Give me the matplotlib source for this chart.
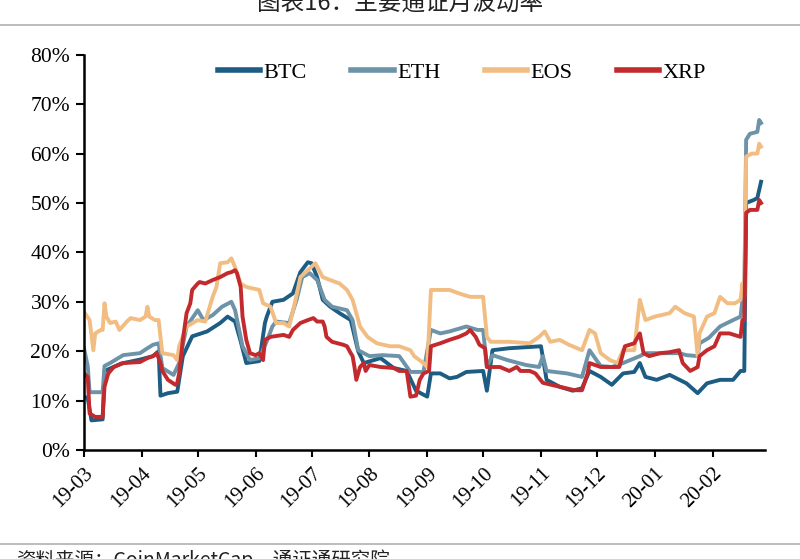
import numpy as np
import matplotlib
matplotlib.use("Agg")
import matplotlib.pyplot as plt
import matplotlib.dates as mdates

plt.rcParams['font.family'] = ['Liberation Serif', 'Noto Sans CJK SC', 'DejaVu Sans']

start_date = np.datetime64('2019-03-01')
end_date = np.datetime64('2020-02-29')

btc_day = [0,2,4,10,11,14,20,30,37,40,41,45,50,53,58,66,73,77,81,84,87,94,97,98,101,107,112,116,120,122,125,128,132,137,143,147,150,159,166,173,176,178,184,186,191,196,200,205,214,216,219,228,241,245,248,255,262,267,271,277,283,289,295,298,301,307,314,323,329,334,341,348,352,354,355,359,361,363]
btc_vol = [10.8,10.5,6.0,6.2,16.0,16.5,17.5,18.3,19.0,20.0,11.0,11.5,11.8,19.0,23.0,24.0,25.7,27.0,26.0,22.0,17.6,18.0,25.7,27.0,30.0,30.4,31.7,36.0,38.0,37.8,35.0,30.4,29.0,27.7,26.3,20.0,17.6,18.6,16.6,16.0,13.6,12.0,10.8,15.5,15.5,14.5,14.8,15.8,16.0,12.0,20.2,20.6,20.9,21.0,14.2,12.8,12.0,12.5,16.0,14.8,13.2,15.5,15.8,17.6,14.8,14.2,15.2,13.5,11.5,13.5,14.2,14.2,16.0,16.0,50.0,50.6,51.0,54.3]

eth_day = [0,2,3,10,11,14,21,30,34,37,40,42,48,51,55,61,64,69,74,79,81,85,89,94,98,101,103,110,114,117,121,125,129,133,141,144,147,153,160,169,175,182,186,191,196,205,211,214,216,219,227,237,244,246,248,259,267,271,277,283,289,298,301,309,319,323,329,330,335,341,348,352,353,354,355,357,361,362,363]
eth_vol = [20.6,17.0,11.7,11.7,17.0,17.6,19.2,19.6,20.6,21.3,21.6,16.6,15.2,17.6,25.0,28.3,26.3,27.3,29.0,30.0,28.3,21.0,18.2,18.6,22.0,25.0,26.0,25.7,30.4,35.0,35.8,34.4,30.4,29.0,28.3,26.3,20.2,19.0,19.2,19.0,15.8,15.8,24.3,23.6,24.0,25.0,24.3,24.3,16.8,19.2,18.2,17.2,16.8,19.0,16.0,15.5,14.8,20.2,17.0,16.8,17.6,19.0,19.6,19.6,19.6,19.2,19.0,21.6,22.7,25.0,26.3,27.0,30.4,31.0,62.8,64.0,64.4,66.8,66.2]

eos_day = [0,3,5,6,9,10,11,12,14,17,19,23,25,30,33,34,35,38,40,41,42,48,50,51,55,61,65,69,71,73,77,79,81,84,87,94,96,100,103,107,110,113,116,120,124,128,132,137,141,144,148,152,157,164,169,175,177,182,184,186,196,201,207,214,216,218,228,239,244,247,250,255,260,267,271,274,277,282,286,289,295,298,301,306,314,317,322,327,329,330,334,338,341,345,349,352,353,354,355,358,361,362,363]
eos_vol = [28.0,26.3,20.2,23.6,24.3,24.3,29.7,27.0,25.7,26.0,24.3,26.0,26.7,26.3,27.0,29.0,27.0,26.3,26.3,22.9,19.6,19.2,18.2,21.0,25.0,26.3,26.0,31.0,33.0,37.8,38.0,38.8,37.0,33.7,33.0,32.4,29.7,29.0,25.7,25.7,25.0,29.7,35.0,36.4,37.8,35.0,34.4,33.7,32.4,30.4,25.0,22.9,21.6,21.0,21.0,20.2,19.0,17.6,16.8,32.4,32.4,31.7,31.0,31.0,22.9,21.9,21.9,21.6,22.9,24.0,21.9,22.3,21.3,20.2,24.3,23.6,19.6,18.2,17.6,20.2,20.2,30.4,26.3,27.0,27.7,29.0,27.7,27.0,19.0,23.6,27.0,27.7,31.0,29.7,29.7,30.4,33.7,31.0,59.4,60.0,60.0,62.0,61.4]

xrp_day = [0,2,3,6,10,11,13,16,21,30,34,37,39,41,42,45,49,50,51,53,55,57,58,61,62,65,69,73,77,79,81,82,84,85,87,89,92,94,96,97,100,107,110,112,116,120,123,125,128,129,130,133,139,141,143,144,145,146,148,150,151,153,159,166,169,173,175,178,180,182,185,186,191,196,201,205,207,210,212,215,216,223,228,232,234,239,242,246,255,263,267,270,271,277,283,287,290,295,298,300,303,309,314,319,321,325,329,330,334,338,341,346,352,353,354,355,357,361,362,363]
xrp_vol = [15.5,14.8,7.4,6.7,6.7,12.8,15.5,16.8,17.6,17.8,18.6,19.0,19.6,17.6,16.0,14.2,13.2,13.6,15.5,22.3,27.7,29.7,32.4,33.7,34.0,33.7,34.4,35.0,35.8,36.0,36.4,35.8,33.0,27.0,22.3,19.6,19.2,19.6,18.2,22.3,22.9,23.3,22.9,24.3,25.7,26.3,26.7,26.0,26.0,25.0,22.9,21.9,21.3,21.0,19.6,19.0,16.8,14.2,16.8,17.6,16.0,17.2,16.8,16.6,16.0,16.0,10.8,11.0,14.2,15.5,16.0,21.0,21.6,22.3,22.9,23.6,24.3,22.9,21.3,20.6,16.8,16.8,16.0,16.8,16.0,16.0,15.5,13.6,12.8,12.1,12.1,15.5,17.6,16.8,16.8,16.8,21.0,21.6,23.6,19.6,19.0,19.6,19.8,20.2,17.6,16.0,16.8,19.0,20.2,21.0,23.6,23.6,22.9,26.3,26.3,48.0,48.6,48.6,50.6,50.0]

series = [
    ("BTC", btc_day, btc_vol, "#1d5c83"),
    ("ETH", eth_day, eth_vol, "#6c93a8"),
    ("EOS", eos_day, eos_vol, "#f2bd82"),
    ("XRP", xrp_day, xrp_vol, "#c22a2e"),
]

yticks = [0, 10, 20, 30, 40, 50, 60, 70, 80]

fig = plt.figure(figsize=(8.0, 5.59), dpi=100)
ax = fig.add_axes([0.105, 0.195, 0.851, 0.707])

for name, d, v, c in series:
    x = start_date + np.array(d).astype('timedelta64[D]')
    ax.plot(x, np.array(v) / 100.0, color=c, lw=2.8, label=name, solid_joinstyle='round')

ax.set_xlim(start_date, end_date)
ax.set_ylim(0, 0.8)
ax.set_yticks([t / 100 for t in yticks])
ax.set_yticklabels([f"{t}%" for t in yticks])
ax.xaxis.set_major_locator(mdates.MonthLocator())
ax.xaxis.set_major_formatter(mdates.DateFormatter('%y-%m'))
for lab in ax.get_xticklabels():
    lab.set_rotation(45)
    lab.set_ha('right')
    lab.set_rotation_mode('anchor')

ax.tick_params(axis='y', labelsize=15.5, length=6, width=1.5, direction='out', pad=4)
ax.tick_params(axis='x', labelsize=15, length=5, width=1.5, direction='out', pad=5)
for s in ['top', 'right']:
    ax.spines[s].set_visible(False)
for s in ['left', 'bottom']:
    ax.spines[s].set_linewidth(1.8)
    ax.spines[s].set_color('black')

leg = ax.legend(loc='center', bbox_to_anchor=(0.555, 0.955), ncol=4, frameon=False,
                fontsize=16, handlelength=1.9, handletextpad=0.15, columnspacing=2.0)
for h in leg.get_lines():
    h.set_linewidth(4)

fig.text(0.5, 0.993, "图表16：主要通证月波动率", ha='center', va='center', fontsize=17,
         color='#222222', family=['Noto Sans CJK SC', 'DejaVu Sans'])
fig.add_artist(plt.Line2D([0, 1], [0.955, 0.955], transform=fig.transFigure, color='#b0b0b0', lw=1.2))
fig.add_artist(plt.Line2D([0, 1], [0.026, 0.026], transform=fig.transFigure, color='#b0b0b0', lw=1.2))
fig.text(0.02, -0.002, "资料来源：CoinMarketCap，通证通研究院", ha='left', va='center', fontsize=14,
         color='#222222', family=['Noto Sans CJK SC', 'DejaVu Sans'], style='italic')

fig.savefig("out.png", dpi=100)
